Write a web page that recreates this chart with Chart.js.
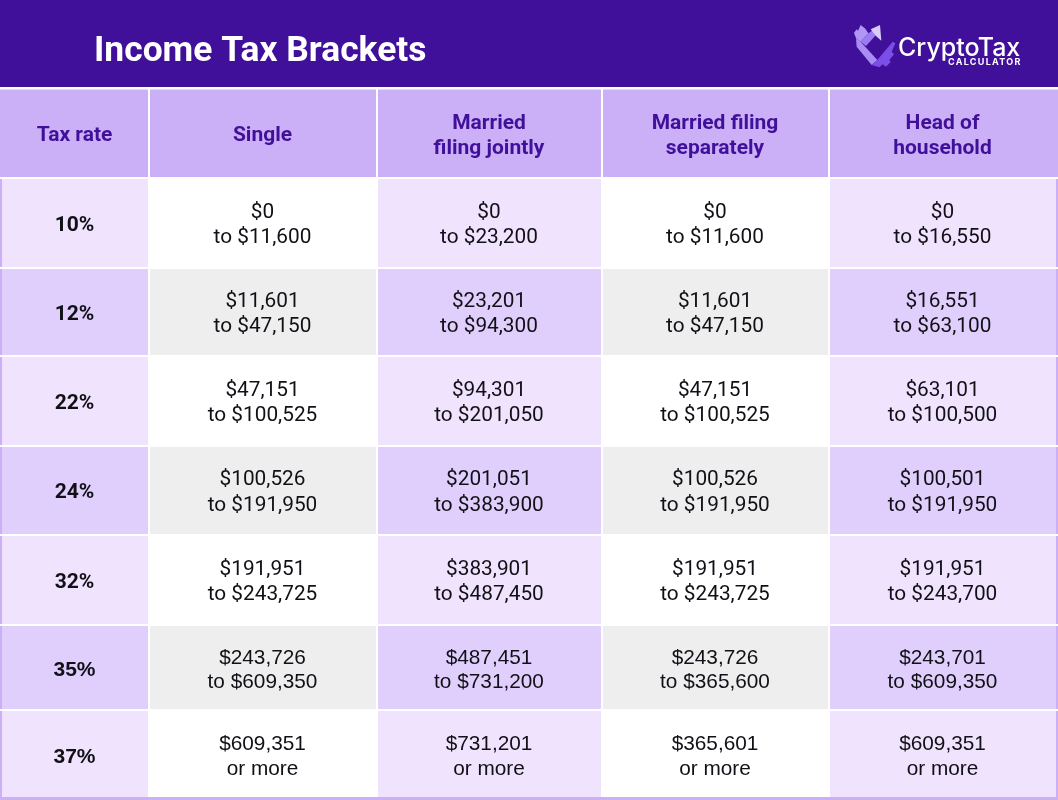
<!DOCTYPE html>
<html>
<head>
<meta charset="utf-8">
<title>Income Tax Brackets</title>
<script src="https://cdn.jsdelivr.net/npm/chart.js@4"></script>
<style>
  html, body { margin: 0; padding: 0; background: #fff; }
  canvas { display: block; }
</style>
</head>
<body>
<canvas id="chart" width="1058" height="800"></canvas>
<script>
var title = 'Income Tax Brackets';
var brandName = 'CryptoTax';
var brandSub = 'CALCULATOR';

var columnHeads = [['Tax rate'], ['Single'], ['Married', 'filing jointly'], ['Married filing', 'separately'], ['Head of', 'household']];
var taxRates = ['10%', '12%', '22%', '24%', '32%', '35%', '37%'];

var singleFrom = [0, 11601, 47151, 100526, 191951, 243726, 609351];
var singleTo = [11600, 47150, 100525, 191950, 243725, 609350, null];
var jointFrom = [0, 23201, 94301, 201051, 383901, 487451, 731201];
var jointTo = [23200, 94300, 201050, 383900, 487450, 731200, null];
var separateFrom = [0, 11601, 47151, 100526, 191951, 243726, 365601];
var separateTo = [11600, 47150, 100525, 191950, 243725, 365600, null];
var headFrom = [0, 16551, 63101, 100501, 191951, 243701, 609351];
var headTo = [16550, 63100, 100500, 191950, 243700, 609350, null];

// table layout, in axis units
var columnEdges = [[2, 148], [150, 376], [378, 601], [603, 828], [830, 1056]];
var rowEdges = [[179, 267], [269, 355], [357, 445], [447, 534], [536, 624], [626, 709], [711, 797]];
var headerEdges = [89.5, 177];
var bandEdges = [0, 87];
var bottomEdges = [797, 800];

var purple = '#41109a';
var headFill = '#cbb0f7';
var lightFill = '#efe3fd';
var darkFill = '#e0cffd';
var grey = '#eeeeee';
var textInk = '#111016';

function money(n) {
  return '$' + n.toLocaleString('en-US');
}

function rowBar(name, edges, cells, colors) {
  return {
    label: name,
    stack: 'table',
    barThickness: edges[1] - edges[0],
    inflateAmount: 0,
    borderWidth: 0,
    backgroundColor: colors,
    data: cells.map(function (c) { return { x: c, y: (edges[0] + edges[1]) / 2 }; })
  };
}

var datasets = [];
datasets.push(rowBar('band', bandEdges, [[0, 1058]], [purple]));
datasets.push(rowBar('header', headerEdges, [[0, 148]].concat(columnEdges.slice(1, 4), [[830, 1058]]), [headFill, headFill, headFill, headFill, headFill]));

taxRates.forEach(function (rate, i) {
  var tint = i % 2 ? darkFill : lightFill;
  var plain = i % 2 ? grey : '#ffffff';
  datasets.push(rowBar(rate, rowEdges[i], [[0, 2]].concat(columnEdges, [[1056, 1058]]),
    [headFill, tint, plain, tint, plain, tint, headFill]));
});
datasets.push(rowBar('bottom', bottomEdges, [[0, 1058]], [headFill]));

var columnsFrom = [singleFrom, jointFrom, separateFrom, headFrom];
var columnsTo = [singleTo, jointTo, separateTo, headTo];

function drawLines(ctx, lines, cx, cy, gap) {
  lines.forEach(function (line, k) {
    ctx.fillText(line, cx, cy + (k - (lines.length - 1) / 2) * gap);
  });
}

function poly(ctx, color, pts) {
  ctx.fillStyle = color;
  ctx.beginPath();
  pts.forEach(function (p, i) {
    var px = 840 + p[0] / 3;
    var py = 10 + p[1] / 3;
    if (i) ctx.lineTo(px, py); else ctx.moveTo(px, py);
  });
  ctx.closePath();
  ctx.fill();
}

var tableText = {
  id: 'tableText',
  afterDatasetsDraw: function (chart) {
    var ctx = chart.ctx;
    var x = chart.scales.x;
    var y = chart.scales.y;
    ctx.save();
    ctx.textBaseline = 'middle';
    ctx.textAlign = 'left';

    ctx.fillStyle = '#ffffff';
    ctx.font = '700 35.4px Roboto';
    ctx.fillText(title, x.getPixelForValue(94), y.getPixelForValue(52));

    // logo
    poly(ctx, '#b197f5', [[42, 68], [50, 58], [54, 62], [62, 45], [76, 56], [85, 70], [62, 95], [48, 85]]);
    poly(ctx, '#9b7bf2', [[62, 95], [85, 70], [100, 60], [108, 75], [78, 108]]);
    poly(ctx, '#d9ccfb', [[92, 58], [120, 45], [124, 92], [108, 78]]);
    poly(ctx, '#a98cf4', [[48, 85], [62, 95], [112, 150], [95, 165], [50, 110]]);
    poly(ctx, '#7c4ee8', [[112, 150], [158, 95], [166, 100], [155, 125], [162, 133], [148, 150], [152, 156], [138, 170], [128, 163], [118, 172], [95, 165]]);

    ctx.fillStyle = '#ffffff';
    ctx.font = '500 25px Inter';
    ctx.fillText(brandName, x.getPixelForValue(898), y.getPixelForValue(48));
    ctx.font = '700 9px Inter';
    ctx.letterSpacing = '1.3px';
    ctx.fillText(brandSub, x.getPixelForValue(948), y.getPixelForValue(62.5));
    ctx.letterSpacing = '0px';

    ctx.textAlign = 'center';
    ctx.fillStyle = purple;
    ctx.font = '700 21px Roboto';
    columnHeads.forEach(function (head, c) {
      var cx = x.getPixelForValue((columnEdges[c][0] + columnEdges[c][1]) / 2 - 0.5);
      drawLines(ctx, head, cx, y.getPixelForValue(136), 25);
    });

    taxRates.forEach(function (rate, i) {
      // the last two rows of the source are set in an Arial-like face
      var face = i >= 5 ? '"Liberation Sans"' : 'Roboto';
      var cy = y.getPixelForValue((rowEdges[i][0] + rowEdges[i][1]) / 2 + (i >= 5 ? 3 : 2.5));
      ctx.fillStyle = textInk;
      ctx.font = '700 21px ' + face;
      ctx.fillText(rate, x.getPixelForValue((columnEdges[0][0] + columnEdges[0][1]) / 2 - 0.5), cy);
      ctx.font = '400 20.8px ' + face;
      columnsFrom.forEach(function (from, c) {
        var to = columnsTo[c][i];
        var edges = columnEdges[c + 1];
        var lines = [money(from[i]), to === null ? 'or more' : 'to ' + money(to)];
        drawLines(ctx, lines, x.getPixelForValue((edges[0] + edges[1]) / 2 - 0.5), cy, i >= 5 ? 24.5 : 25.5);
      });
    });
    ctx.restore();
  }
};

new Chart(document.getElementById('chart'), {
  type: 'bar',
  data: { datasets: datasets },
  plugins: [tableText],
  options: {
    indexAxis: 'y',
    responsive: false,
    animation: false,
    devicePixelRatio: 1,
    layout: { padding: 0 },
    plugins: { legend: { display: false }, tooltip: { enabled: false }, title: { display: false } },
    scales: {
      x: { type: 'linear', min: 0, max: 1058, stacked: false, display: false },
      y: { type: 'linear', min: 0, max: 800, reverse: true, offset: false, display: false }
    }
  }
});
</script>
</body>
</html>
